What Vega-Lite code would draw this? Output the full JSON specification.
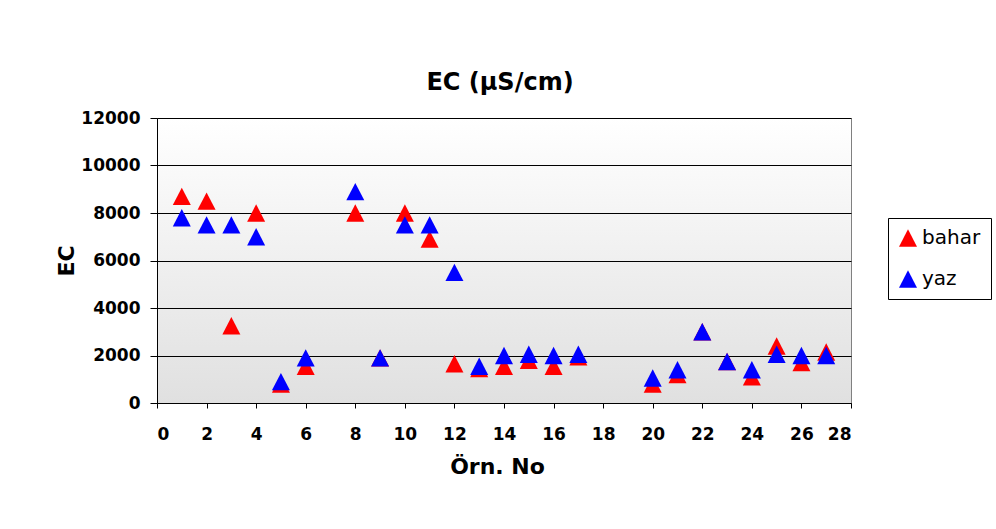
{
  "$schema": "https://vega.github.io/schema/vega-lite/v6.json",
  "autosize": "none",
  "width": 694,
  "height": 285,
  "padding": {"left": 157, "top": 118, "right": 145, "bottom": 126},
  "background": "white",
  "config": {
    "font": "DejaVu Sans",
    "view": {
      "stroke": "#808080",
      "strokeWidth": 1,
      "fill": {"gradient": "linear", "x1": 0, "y1": 0, "x2": 0, "y2": 1, "stops": [{"offset": 0, "color": "#ffffff"}, {"offset": 1, "color": "#e0e0e0"}]}
    }
  },
  "title": {
    "text": "EC (µS/cm)",
    "fontSize": 24,
    "fontWeight": "bold",
    "font": "DejaVu Sans",
    "color": "black",
    "anchor": "middle",
    "baseline": "alphabetic",
    "offset": 23,
    "dx": -4,
    "dy": 28
  },
  "data": {
    "values": [
      {"no": 1, "season": "bahar", "ec": 8700},
      {"no": 2, "season": "bahar", "ec": 8500},
      {"no": 3, "season": "bahar", "ec": 3250},
      {"no": 4, "season": "bahar", "ec": 8000},
      {"no": 5, "season": "bahar", "ec": 800},
      {"no": 6, "season": "bahar", "ec": 1550},
      {"no": 8, "season": "bahar", "ec": 8000},
      {"no": 9, "season": "bahar", "ec": 1900},
      {"no": 10, "season": "bahar", "ec": 8000},
      {"no": 11, "season": "bahar", "ec": 6900},
      {"no": 12, "season": "bahar", "ec": 1650},
      {"no": 13, "season": "bahar", "ec": 1450},
      {"no": 14, "season": "bahar", "ec": 1550},
      {"no": 15, "season": "bahar", "ec": 1800},
      {"no": 16, "season": "bahar", "ec": 1550},
      {"no": 17, "season": "bahar", "ec": 1950},
      {"no": 20, "season": "bahar", "ec": 800},
      {"no": 21, "season": "bahar", "ec": 1200},
      {"no": 22, "season": "bahar", "ec": 3000},
      {"no": 23, "season": "bahar", "ec": 1750},
      {"no": 24, "season": "bahar", "ec": 1100},
      {"no": 25, "season": "bahar", "ec": 2400},
      {"no": 26, "season": "bahar", "ec": 1700},
      {"no": 27, "season": "bahar", "ec": 2150},
      {"no": 1, "season": "yaz", "ec": 7800},
      {"no": 2, "season": "yaz", "ec": 7500},
      {"no": 3, "season": "yaz", "ec": 7500},
      {"no": 4, "season": "yaz", "ec": 7000},
      {"no": 5, "season": "yaz", "ec": 900},
      {"no": 6, "season": "yaz", "ec": 1900},
      {"no": 8, "season": "yaz", "ec": 8900},
      {"no": 9, "season": "yaz", "ec": 1900},
      {"no": 10, "season": "yaz", "ec": 7500},
      {"no": 11, "season": "yaz", "ec": 7500},
      {"no": 12, "season": "yaz", "ec": 5500},
      {"no": 13, "season": "yaz", "ec": 1550},
      {"no": 14, "season": "yaz", "ec": 2000},
      {"no": 15, "season": "yaz", "ec": 2050},
      {"no": 16, "season": "yaz", "ec": 2000},
      {"no": 17, "season": "yaz", "ec": 2050},
      {"no": 20, "season": "yaz", "ec": 1050},
      {"no": 21, "season": "yaz", "ec": 1400},
      {"no": 22, "season": "yaz", "ec": 3000},
      {"no": 23, "season": "yaz", "ec": 1750},
      {"no": 24, "season": "yaz", "ec": 1400},
      {"no": 25, "season": "yaz", "ec": 2050},
      {"no": 26, "season": "yaz", "ec": 2000},
      {"no": 27, "season": "yaz", "ec": 2000}
    ]
  },
  "mark": {
    "type": "point",
    "filled": true,
    "opacity": 1,
    "shape": "M0,-0.97L1,0.97L-1,0.97Z",
    "size": 324,
    "strokeWidth": 0
  },
  "encoding": {
    "x": {
      "field": "no",
      "type": "quantitative",
      "scale": {"domain": [0, 28], "nice": false, "zero": false},
      "axis": {
        "title": "Örn. No",
        "values": [0, 2, 4, 6, 8, 10, 12, 14, 16, 18, 20, 22, 24, 26, 28],
        "grid": false,
        "domainColor": "black",
        "tickColor": "black",
        "tickSize": 5,
        "labelFontSize": 17,
        "labelFontWeight": "bold",
        "labelColor": "black",
        "labelPadding": 18,
        "labelFont": "DejaVu Sans",
        "titleFont": "DejaVu Sans",
        "titleFontSize": 22,
        "titleFontWeight": "bold",
        "titleColor": "black",
        "titlePadding": 14,
        "titleX": 340
      }
    },
    "y": {
      "field": "ec",
      "type": "quantitative",
      "scale": {"domain": [0, 12000], "nice": false},
      "axis": {
        "title": "EC",
        "values": [0, 2000, 4000, 6000, 8000, 10000, 12000],
        "format": "d",
        "grid": true,
        "gridColor": "black",
        "gridWidth": 1,
        "domainColor": "black",
        "tickColor": "black",
        "tickSize": 7,
        "labelFontSize": 17,
        "labelFontWeight": "bold",
        "labelColor": "black",
        "labelPadding": 10,
        "labelFont": "DejaVu Sans",
        "titleFont": "DejaVu Sans",
        "titleFontSize": 22,
        "titleFontWeight": "bold",
        "titleColor": "black",
        "titlePadding": 2
      }
    },
    "color": {
      "field": "season",
      "type": "nominal",
      "scale": {"domain": ["bahar", "yaz"], "range": ["#ff0000", "#0000ff"]},
      "legend": {
        "title": null,
        "orient": "none",
        "legendX": 731,
        "legendY": 100,
        "strokeColor": "black",
        "fillColor": "white",
        "padding": 10,
        "rowPadding": 21,
        "symbolType": "M0,-0.97L1,0.97L-1,0.97Z",
        "symbolSize": 324,
        "symbolStrokeWidth": 0,
        "symbolOpacity": 1,
        "labelFontSize": 20,
        "labelFont": "DejaVu Sans",
        "labelColor": "black",
        "labelOffset": 4
      }
    }
  }
}
